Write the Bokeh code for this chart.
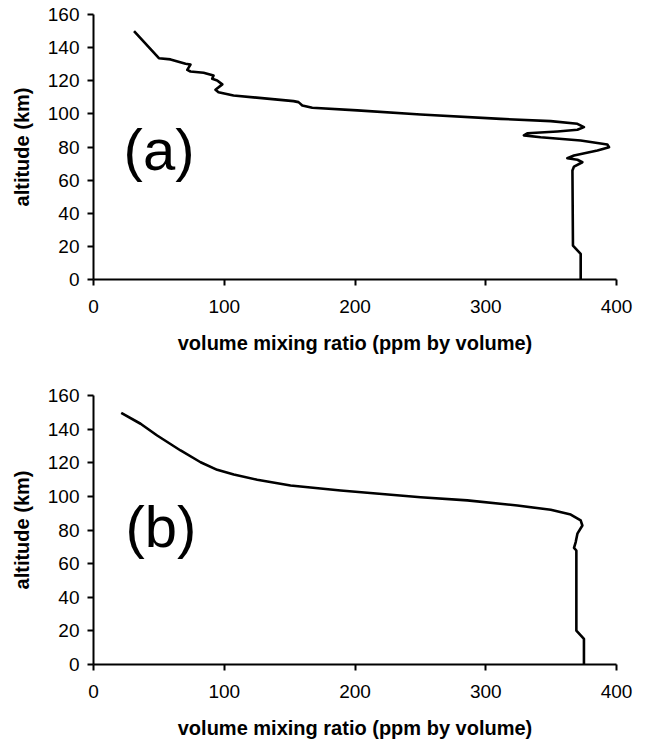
from bokeh.plotting import figure
from bokeh.layouts import column
from bokeh.models import Range1d, FixedTicker, Label
from bokeh.embed import file_html
from bokeh.resources import INLINE

# ---- data ----
a_vmr = [31, 50, 58.9, 70.4, 74.2, 71.7, 74.2, 84.2, 91.8, 90.8, 94.6, 98.5, 93.3, 95.6,
         107.1, 153, 156.8, 159.7, 167.3, 201.8, 250.2, 311.4, 349.7, 370.1, 375.1, 370.1,
         354.8, 331.8, 329.2, 342, 372.6, 393, 394.3, 385.4, 367.5, 362.4, 370.1, 373.9,
         367.5, 366.3, 366.7, 372.6, 372.6]
a_alt = [150, 133.6, 132.9, 130.3, 129.8, 126.6, 125.6, 124.8, 123.2, 121.2, 120.2, 117.8,
         114.6, 113.1, 111.1, 107.7, 107.1, 105.1, 103.7, 102.1, 99.6, 97, 95.6, 94, 92,
         90.4, 89.4, 88.3, 87, 85.9, 83.9, 81.5, 79.9, 77.9, 74.9, 73.2, 72.3, 70.8, 68.2,
         65.8, 20.5, 15.5, 0]

b_vmr = [21.2, 36, 48.7, 66.6, 81.9, 94.6, 107.3, 125.2, 150.7, 189, 250.2, 285.9, 324.2,
         349.7, 365, 372.6, 373.9, 370.1, 368.8, 367.5, 369.3, 369.3, 375.1, 375.1]
b_alt = [149.7, 143.2, 136.2, 127.3, 120.3, 115.8, 113, 109.9, 106.5, 103.5, 99.5, 97.6,
         94.6, 92, 89.2, 85.7, 82.7, 77.8, 72.8, 69.4, 67.8, 20.2, 15.3, 0]

x_ticks = [0, 100, 200, 300, 400]
y_ticks = [0, 20, 40, 60, 80, 100, 120, 140, 160]
panel_labels = ["(a)", "(b)"]

FONT = "Liberation Sans"


def make_panel(xs, ys, label, lab_x, lab_y, top, bottom):
    p = figure(width=646, height=372, output_backend="svg", toolbar_location=None,
               x_range=Range1d(0, 400), y_range=Range1d(0, 160),
               min_border_left=93, min_border_right=30,
               min_border_top=top, min_border_bottom=bottom)
    p.outline_line_color = None
    p.xgrid.visible = False
    p.ygrid.visible = False
    p.background_fill_color = "white"
    p.border_fill_color = "white"
    p.line(xs, ys, line_color="black", line_width=2.6, line_join="round")

    for ax in (p.xaxis[0], p.yaxis[0]):
        ax.axis_line_width = 2
        ax.axis_line_color = "black"
        ax.major_tick_line_width = 2
        ax.major_tick_line_color = "black"
        ax.major_tick_in = 0
        ax.major_tick_out = 6
        ax.minor_tick_line_color = None
        ax.major_label_text_font = FONT
        ax.major_label_text_font_size = "19px"
        ax.major_label_text_color = "black"
        ax.axis_label_text_font = FONT
        ax.axis_label_text_font_style = "bold"
        ax.axis_label_text_font_size = "20px"
        ax.axis_label_text_color = "black"
    p.xaxis.ticker = FixedTicker(ticks=x_ticks)
    p.yaxis.ticker = FixedTicker(ticks=y_ticks)
    p.xaxis.axis_label = "volume mixing ratio (ppm by volume)"
    p.yaxis.axis_label = "altitude (km)"
    p.xaxis.major_label_standoff = 14
    p.yaxis.major_label_standoff = 8
    p.xaxis.axis_label_standoff = 16
    p.yaxis.axis_label_standoff = 12

    p.add_layout(Label(x=lab_x, y=lab_y, text=label, text_font=FONT,
                       text_font_size="58px", text_color="black",
                       text_align="left", text_baseline="alphabetic"))
    return p


p1 = make_panel(a_vmr, a_alt, panel_labels[0], 23, 78.3, 14, 93)
p2 = make_panel(b_vmr, b_alt, panel_labels[1], 24.5, 82.3, 23, 80)

p = column(p1, p2, spacing=0)
open("out.html", "w").write(file_html(p, INLINE))
